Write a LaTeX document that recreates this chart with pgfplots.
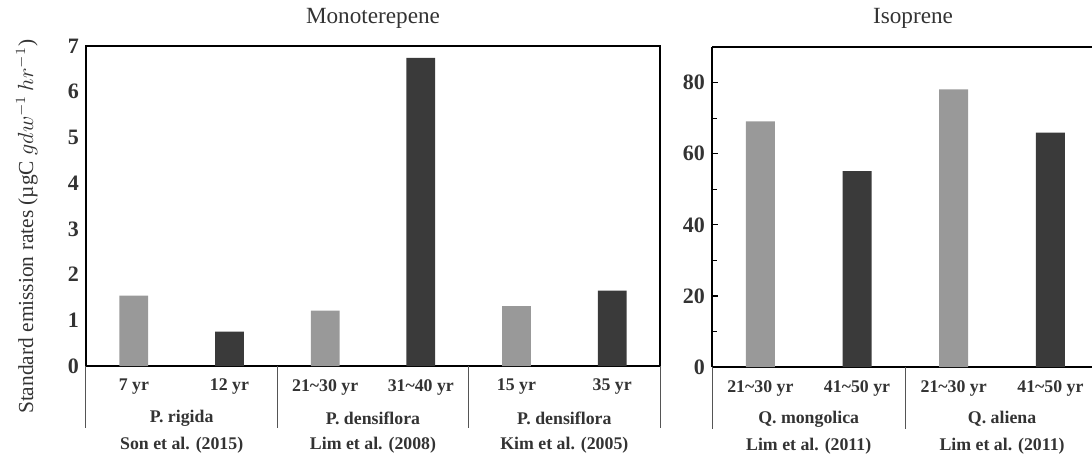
\documentclass[border=0pt]{standalone}
\usepackage{fontspec}
\setmainfont{Liberation Serif}
\usepackage{pgfplots}
\pgfplotsset{compat=1.18}
\definecolor{lightbar}{HTML}{999999}
\definecolor{darkbar}{HTML}{3A3A3A}
\definecolor{txt}{HTML}{333333}
\definecolor{sep}{HTML}{555555}
\newcommand{\ti}{\textasciitilde}
\tikzset{
  grp/.style={font=\bfseries\fontsize{8.9}{10}\selectfont, text=txt},
  sepl/.style={draw=sep, line width=0.5pt},
}
\pgfplotsset{
  base/.style={
    scale only axis, height=160pt, ymin=0, xmin=-0.5,
    ybar, bar width=0.3, bar shift=0pt,
    xtick style={draw=none},
    ytick style={black, line width=0.6pt},
    major tick length=3pt, minor tick length=2.5pt,
    tick align=inside,
    /pgf/number format/assume math mode=true,
    yticklabel style={font=\bfseries\fontsize{11}{13}\selectfont, text=txt},
    xticklabel style={font=\bfseries\fontsize{8.9}{10}\selectfont, text=txt, anchor=center, yshift=-10.5pt},
    axis line style={line width=1pt, black},
    clip=false,
  },
}
\begin{document}
\begin{tikzpicture}
\useasboundingbox (0pt,0pt) rectangle (546pt,228.5pt);
% ---------------- Monoterpene ----------------
\begin{axis}[base, at={(43pt,45.5pt)}, anchor=south west, width=287pt,
  xmax=5.5, ymax=7, ytick={0,...,7}, ytick style={draw=none},
  xtick={0,...,5},
  xticklabels={7 yr,12 yr,21\ti30 yr,31\ti40 yr,15 yr,35 yr}]
\addplot[fill=lightbar, draw=none] coordinates {(0,1.54) (2,1.21) (4,1.31)};
\addplot[fill=darkbar, draw=none] coordinates {(1,0.75) (3,6.74) (5,1.65)};
\draw[sepl] (axis cs:-0.5,0) -- ([yshift=-31pt]axis cs:-0.5,0);
\draw[sepl] (axis cs:1.5,0) -- ([yshift=-31pt]axis cs:1.5,0);
\draw[sepl] (axis cs:3.5,0) -- ([yshift=-31pt]axis cs:3.5,0);
\draw[sepl] (axis cs:5.5,0) -- ([yshift=-31pt]axis cs:5.5,0);
\node[grp] at ([yshift=-26pt]axis cs:0.5,0) {P. rigida};
\node[grp] at ([yshift=-26pt]axis cs:2.5,0) {P. densiflora};
\node[grp] at ([yshift=-26pt]axis cs:4.5,0) {P. densiflora};
\node[grp] at ([yshift=-39.5pt]axis cs:0.5,0) {Son et al. (2015)};
\node[grp] at ([yshift=-39.5pt]axis cs:2.5,0) {Lim et al. (2008)};
\node[grp] at ([yshift=-39.5pt]axis cs:4.5,0) {Kim et al. (2005)};
\node[font=\fontsize{11.6}{13}\selectfont, text=txt] at ([yshift=14pt]rel axis cs:0.5,1) {Monoterepene};
\node[rotate=90, font=\fontsize{10.7}{12}\selectfont, text=txt] at ([xshift=-29.5pt]rel axis cs:0,0.435)
  {Standard emission rates (µgC $gdw^{-1}\,hr^{-1}$)};
\end{axis}
% ---------------- Isoprene ----------------
\begin{axis}[base, at={(356pt,45pt)}, anchor=south west, width=190pt,
  xmax=3.43, ymax=90, ytick={0,20,...,80}, minor ytick={10,30,50,70},
  axis x line*=box, axis y line*=left,
  xtick={0,...,3},
  xticklabels={21\ti30 yr,41\ti50 yr,21\ti30 yr,41\ti50 yr}]
\addplot[fill=lightbar, draw=none] coordinates {(0,69.1) (2,78.1)};
\addplot[fill=darkbar, draw=none] coordinates {(1,55.1) (3,65.9)};
\draw[sepl] (axis cs:-0.5,0) -- ([yshift=-31pt]axis cs:-0.5,0);
\draw[sepl] (axis cs:1.5,0) -- ([yshift=-31pt]axis cs:1.5,0);
\node[grp] at ([yshift=-26pt]axis cs:0.5,0) {Q. mongolica};
\node[grp] at ([yshift=-26pt]axis cs:2.5,0) {Q. aliena};
\node[grp] at ([yshift=-39.5pt]axis cs:0.5,0) {Lim et al. (2011)};
\node[grp] at ([yshift=-39.5pt]axis cs:2.5,0) {Lim et al. (2011)};
\node[font=\fontsize{11.6}{13}\selectfont, text=txt] at ([yshift=14.5pt]rel axis cs:0.529,1) {Isoprene};
\end{axis}
\end{tikzpicture}
\end{document}
